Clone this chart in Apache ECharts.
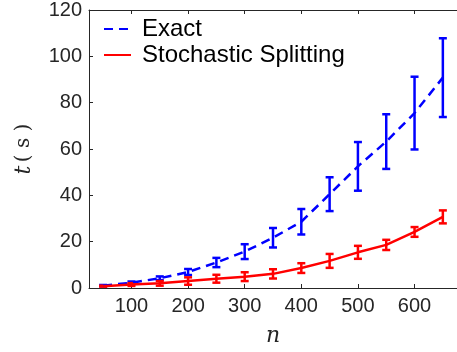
<!DOCTYPE html>
<html>
<head>
<meta charset="utf-8">
<script src="https://cdn.jsdelivr.net/npm/echarts@6/dist/echarts.min.js"></script>
<style>
  html, body { margin: 0; padding: 0; background: #fff; }
  #chart { width: 457px; height: 352px; }
</style>
</head>
<body>
<div id="chart"></div>
<script>
// problem size n
const sizes = [50, 100, 150, 200, 250, 300, 350, 400, 450, 500, 550, 600, 650];
// exact method: mean time and error half-width (s)
const exactMean = [1.0, 2.3, 4.2, 6.9, 11.0, 15.7, 21.7, 28.6, 40.5, 52.5, 63.2, 75.5, 90.8];
const exactErr = [0.3, 0.5, 0.8, 1.3, 2.0, 3.2, 4.2, 5.5, 7.3, 10.5, 11.8, 15.7, 17.0];
// stochastic splitting: mean time and error half-width (s)
const splitMean = [0.8, 1.5, 2.0, 3.0, 4.0, 4.9, 6.1, 8.6, 11.7, 15.4, 18.6, 24.2, 30.7];
const splitErr = [0.2, 0.6, 1.0, 1.6, 1.7, 1.9, 2.0, 2.1, 3.0, 2.8, 2.2, 2.1, 2.8];
const xTicks = [100, 200, 300, 400, 500, 600];

const axisColor = '#262626';
const labelFont = 'Liberation Sans, Arial, sans-serif';
const mathFont = 'DejaVu Serif, Liberation Serif, serif';

function errorBars(means, errs) {
  return sizes.map((n, i) => [n, means[i] - errs[i], means[i] + errs[i]]);
}

function barRenderer(color) {
  return function (params, api) {
    const x = api.value(0);
    const top = api.coord([x, api.value(2)]);
    const bot = api.coord([x, api.value(1)]);
    const w = 4;
    const style = { stroke: color, lineWidth: 2.5 };
    return {
      type: 'group',
      children: [
        { type: 'line', shape: { x1: top[0], y1: top[1], x2: bot[0], y2: bot[1] }, style },
        { type: 'line', shape: { x1: top[0] - w, y1: top[1], x2: top[0] + w, y2: top[1] }, style },
        { type: 'line', shape: { x1: bot[0] - w, y1: bot[1], x2: bot[0] + w, y2: bot[1] }, style },
      ],
    };
  };
}

const chart = echarts.init(document.getElementById('chart'), null, { renderer: 'canvas' });
chart.setOption({
  animation: false,
  grid: {
    left: 89,
    top: 7,
    right: -3,
    bottom: 60,
  },
  legend: {
    data: ['Exact', 'Stochastic Splitting'],
    orient: 'vertical',
    left: 98,
    top: 12,
    itemWidth: 27,
    itemHeight: 14,
    itemGap: 2,
    itemStyle: { opacity: 0 },
    textStyle: {
      fontFamily: labelFont,
      fontSize: 24,
      color: '#000',
      lineHeight: 24,
      padding: [0, 0, 0, 6],
    },
  },
  xAxis: [
    {
      type: 'value',
      min: 25,
      max: 675,
      name: 'n',
      nameLocation: 'middle',
      nameGap: 37,
      nameTextStyle: {
        fontFamily: mathFont,
        fontStyle: 'italic',
        fontSize: 22,
        color: axisColor,
      },
      axisLine: { show: true, lineStyle: { color: axisColor, width: 1 } },
      axisTick: { inside: true, length: 4, customValues: xTicks, lineStyle: { color: axisColor } },
      axisLabel: {
        customValues: xTicks,
        margin: 8,
        fontFamily: labelFont,
        fontSize: 20,
        color: axisColor,
      },
      splitLine: { show: false },
    },
    {
      type: 'value',
      position: 'top',
      min: 25,
      max: 675,
      axisLine: { show: true, onZero: false, lineStyle: { color: axisColor, width: 1 } },
      axisTick: { inside: true, length: 4, customValues: xTicks, lineStyle: { color: axisColor } },
      axisLabel: { show: false },
      splitLine: { show: false },
    },
  ],
  yAxis: {
    type: 'value',
    min: 0,
    max: 120,
    interval: 20,
    name: '{i|t} {r|( s )}',
    nameLocation: 'middle',
    nameRotate: 90,
    nameGap: 54,
    nameTextStyle: {
      color: axisColor,
      rich: {
        i: { fontFamily: mathFont, fontStyle: 'italic', fontSize: 22, color: axisColor },
        r: { fontFamily: mathFont, fontSize: 20, color: axisColor },
      },
    },
    axisLine: { show: true, lineStyle: { color: axisColor, width: 1 } },
    axisTick: { inside: true, length: 4, lineStyle: { color: axisColor } },
    axisLabel: {
      margin: 7,
      fontFamily: labelFont,
      fontSize: 20,
      color: axisColor,
    },
    splitLine: { show: false },
  },
  series: [
    {
      name: 'Exact',
      type: 'line',
      data: sizes.map((n, i) => [n, exactMean[i]]),
      symbol: 'none',
      color: '#0000ff',
      lineStyle: { color: '#0000ff', width: 2.5, type: [9, 6] },
    },
    {
      name: 'Exact bars',
      type: 'custom',
      data: errorBars(exactMean, exactErr),
      renderItem: barRenderer('#0000ff'),
      encode: { x: 0, y: [1, 2] },
      z: 3,
    },
    {
      name: 'Stochastic Splitting',
      type: 'line',
      data: sizes.map((n, i) => [n, splitMean[i]]),
      symbol: 'none',
      color: '#ff0000',
      lineStyle: { color: '#ff0000', width: 2.5 },
    },
    {
      name: 'Split bars',
      type: 'custom',
      data: errorBars(splitMean, splitErr),
      renderItem: barRenderer('#ff0000'),
      encode: { x: 0, y: [1, 2] },
      z: 3,
    },
  ],
});
</script>
</body>
</html>
